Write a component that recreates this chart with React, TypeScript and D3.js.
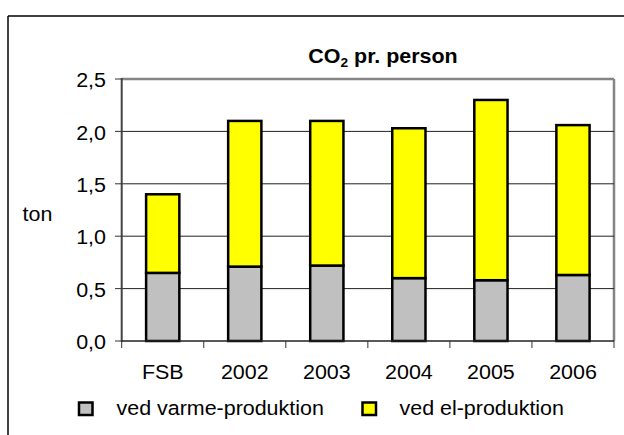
import React from "react";
import * as d3 from "d3";

const categories = ["FSB", "2002", "2003", "2004", "2005", "2006"];
const varme = [0.65, 0.71, 0.72, 0.6, 0.58, 0.63];
const total = [1.4, 2.1, 2.1, 2.03, 2.3, 2.06];
const el = total.map((t, i) => +(t - varme[i]).toFixed(2));
const yTicks = [0, 0.5, 1.0, 1.5, 2.0, 2.5];
const seriesNames = ["ved varme-produktion", "ved el-produktion"];
const seriesColors = ["#C0C0C0", "#FFFF00"];

const W = 624;
const H = 435;
const left = 121.7;
const right = 614;
const top = 79;
const bottom = 341;
const FONT = "'Liberation Sans', Arial, Helvetica, sans-serif";
const SX = 1.1;

function T({ x, y, anchor = "start", size = 19.5, weight = "normal", children, baseline }: any) {
  return (
    <text
      transform={`translate(${x},${y}) scale(${SX},1)`}
      textAnchor={anchor}
      fontSize={size}
      fontWeight={weight}
      fontFamily={FONT}
      fill="#000"
      dominantBaseline={baseline}
    >
      {children}
    </text>
  );
}

export default function App() {
  const x = d3.scaleBand<string>().domain(categories).range([left, right]).padding(0);
  const y = d3.scaleLinear().domain([0, 2.5]).range([bottom, top]);
  const barW = x.bandwidth() * 0.405;
  const stack = d3.stack<any>().keys(["varme", "el"])(
    categories.map((c, i) => ({ cat: c, varme: varme[i], el: el[i] }))
  );
  const fmt = (v: number) => v.toFixed(1).replace(".", ",");
  const boundaries = [...categories.map((c) => x(c)!), right];

  return (
    <svg width={W} height={H} style={{ position: "absolute", left: 0, top: 0, background: "#fff" }}>
      <rect x={0} y={0} width={W} height={H} fill="#fff" />
      {/* outer frame */}
      <line x1={8} y1={16} x2={W} y2={16} stroke="#000" strokeWidth={1.5} />
      <line x1={8} y1={16} x2={8} y2={H} stroke="#000" strokeWidth={1.5} />

      {/* title */}
      <text
        transform={`translate(383,63) scale(${SX},1)`}
        textAnchor="middle"
        fontSize={19.5}
        fontWeight="bold"
        fontFamily={FONT}
      >
        CO
        <tspan fontSize={12.5} dy={4}>2</tspan>
        <tspan dy={-4}> pr. person</tspan>
      </text>

      {/* plot border top & right */}
      <line x1={left} y1={top} x2={right} y2={top} stroke="#858585" strokeWidth={2.5} />
      <line x1={right} y1={top} x2={right} y2={bottom} stroke="#858585" strokeWidth={2.5} />

      {/* gridlines */}
      {yTicks.slice(1, -1).map((t) => (
        <line key={t} x1={left} x2={right} y1={y(t)} y2={y(t)} stroke="#222" strokeWidth={1} />
      ))}

      {/* bars */}
      {stack.map((s, si) =>
        s.map((d, i) => (
          <rect
            key={si + "-" + i}
            x={x(categories[i])! + x.bandwidth() / 2 - barW / 2}
            y={y(d[1])}
            width={barW}
            height={y(d[0]) - y(d[1])}
            fill={seriesColors[si]}
            stroke="#000"
            strokeWidth={2.5}
          />
        ))
      )}

      {/* y axis */}
      <line x1={left} x2={left} y1={top - 1} y2={bottom + 1} stroke="#444" strokeWidth={2} />
      {yTicks.map((t) => (
        <g key={t}>
          <line x1={115} x2={left} y1={y(t)} y2={y(t)} stroke="#333" strokeWidth={1} />
          <T x={106} y={y(t) + 1} anchor="end" baseline="central">
            {fmt(t)}
          </T>
        </g>
      ))}

      {/* x axis */}
      <line x1={left} x2={right} y1={bottom} y2={bottom} stroke="#222" strokeWidth={1.5} />
      {boundaries.map((b, i) => (
        <line key={i} x1={b} x2={b} y1={bottom} y2={bottom + 7} stroke="#333" strokeWidth={1} />
      ))}
      {categories.map((c) => (
        <T key={c} x={x(c)! + x.bandwidth() / 2} y={379} anchor="middle">
          {c}
        </T>
      ))}

      {/* y label */}
      <T x={22.5} y={221}>ton</T>

      {/* legend */}
      {seriesNames.map((n, i) => {
        const lx = i === 0 ? 79 : 362.5;
        const tx = i === 0 ? 116.5 : 399.5;
        return (
          <g key={n}>
            <rect x={lx} y={402.5} width={13.5} height={12.5} fill={seriesColors[i]} stroke="#000" strokeWidth={2.5} />
            <T x={tx} y={415}>{n}</T>
          </g>
        );
      })}
    </svg>
  );
}
